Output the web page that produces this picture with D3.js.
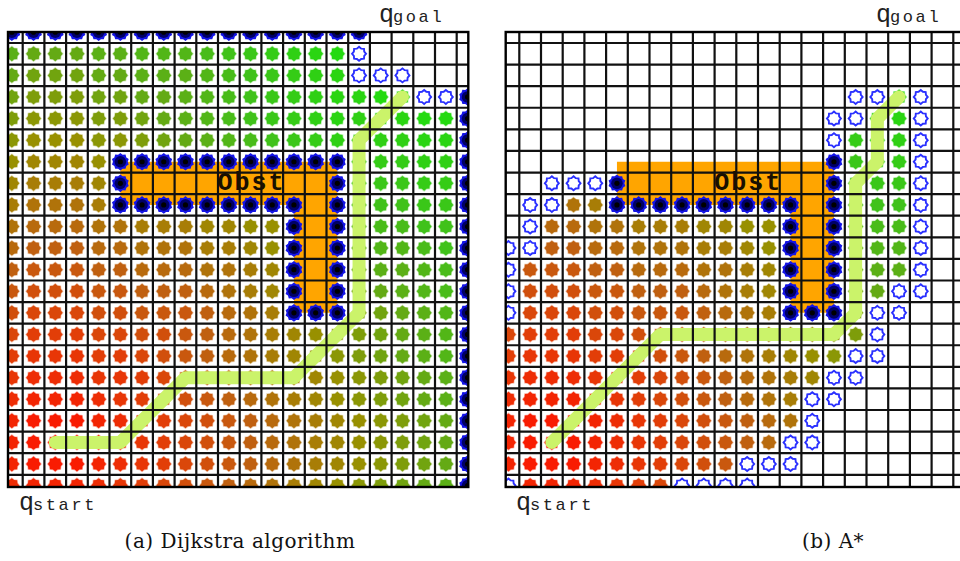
<!DOCTYPE html>
<html>
<head>
<meta charset="utf-8">
<script src="https://cdn.jsdelivr.net/npm/d3@7"></script>
<style>
  body { margin: 0; background: #fff; }
  svg { display: block; }
</style>
</head>
<body>
<svg width="960" height="561"></svg>
<script>
// cost-to-come of every cell (row 0 .. 21, col 0 .. 20), "-" = no value
var costRows = [
  "- - - - - - - - - - - - - - - - - - - - -",
  "19 18 18 18 19 19 20 20 20 21 22 23 24 25 26 27 - - - - -",
  "18 17 17 17 18 18 19 19 19 20 21 22 23 24 25 26 - - - - -",
  "17 16 16 16 17 17 18 18 19 20 21 22 23 24 25 26 26 27 27 - -",
  "16 15 15 15 16 16 17 18 19 20 21 22 23 24 25 26 25 26 26 27 27",
  "15 14 14 14 15 15 16 17 18 19 20 21 22 23 24 25 24 25 25 26 26",
  "14 13 13 13 14 - - - - - - - - - - - 23 24 24 25 25",
  "13 12 12 12 13 - - - - - - - - - - - 22 23 23 24 24",
  "12 11 11 11 12 - - - - - - - - - - - 21 22 22 23 23",
  "11 10 10 10 11 11 12 12 12 13 13 14 14 - - - 20 21 21 22 22",
  "10 9 9 9 10 10 11 11 11 12 12 13 14 - - - 19 20 20 21 22",
  "9 8 8 8 9 9 10 10 10 11 11 12 13 - - - 18 19 19 20 21",
  "8 7 7 7 8 8 9 9 9 10 11 12 13 - - - 17 18 19 20 21",
  "7 6 6 6 7 7 8 8 8 9 10 11 12 - - - 16 17 18 19 20",
  "6 5 5 5 6 6 7 7 8 9 10 11 12 13 14 15 16 17 18 19 20",
  "5 4 4 4 5 5 6 7 8 9 10 11 12 13 14 15 16 17 18 19 20",
  "4 3 3 3 4 4 5 6 7 8 9 10 11 12 13 14 15 16 17 18 19",
  "3 2 2 2 3 4 5 6 7 8 9 10 11 12 13 14 15 16 17 18 19",
  "2 1 1 1 2 3 4 5 6 7 8 9 10 11 12 13 14 15 16 17 18",
  "2 1 0 1 2 3 4 5 6 7 8 9 10 11 12 13 14 15 16 17 18",
  "2 1 1 1 2 3 4 5 6 7 8 9 10 11 12 13 14 15 16 17 18",
  "3 2 2 2 3 4 5 6 7 8 9 10 11 12 13 14 15 16 17 18 19"
];

// cell states: F = closed, O = open, B = obstacle met, - = obstacle, . = untouched
var dijkstraRows = [
  "BBBBBBBBBBBBBBBBB.....",
  "FFFFFFFFFFFFFFFFO.....",
  "FFFFFFFFFFFFFFFFOOO...",
  "FFFFFFFFFFFFFFFFFFFOOB",
  "FFFFFFFFFFFFFFFFFFFFFB",
  "FFFFFFFFFFFFFFFFFFFFFB",
  "FFFFFBBBBBBBBBBBFFFFFB",
  "FFFFFB---------BFFFFFB",
  "FFFFFBBBBBBBBB-BFFFFFB",
  "FFFFFFFFFFFFFB-BFFFFFB",
  "FFFFFFFFFFFFFB-BFFFFFB",
  "FFFFFFFFFFFFFB-BFFFFFB",
  "FFFFFFFFFFFFFB-BFFFFFB",
  "FFFFFFFFFFFFFBBBFFFFFB",
  "FFFFFFFFFFFFFFFFFFFFFB",
  "FFFFFFFFFFFFFFFFFFFFFB",
  "FFFFFFFFFFFFFFFFFFFFFB",
  "FFFFFFFFFFFFFFFFFFFFFB",
  "FFFFFFFFFFFFFFFFFFFFFB",
  "FFFFFFFFFFFFFFFFFFFFFB",
  "FFFFFFFFFFFFFFFFFFFFFB",
  "FFFFFFFFFFFFFFFFFFFFFB"
];

var astarRows = [
  "......................",
  "......................",
  "......................",
  "................OOFO..",
  "...............OOFFO..",
  "...............OFFFO..",
  "...............BFFFO..",
  "..OOOB.........BFFFO..",
  ".OOFFBBBBBBBBB.BFFFO..",
  ".OFFFFFFFFFFFB.BFFFO..",
  "OOFFFFFFFFFFFB.BFFFO..",
  "OFFFFFFFFFFFFB.BFFFO..",
  "OFFFFFFFFFFFFB.BFFOO..",
  "OFFFFFFFFFFFFBBBFOO...",
  "FFFFFFFFFFFFFFFFFO....",
  "FFFFFFFFFFFFFFFFOO....",
  "FFFFFFFFFFFFFFFOO.....",
  "FFFFFFFFFFFFFFOO......",
  "FFFFFFFFFFFFFFO.......",
  "FFFFFFFFFFFFFOO.......",
  "FFFFFFFFFFFOOO........",
  "OFFFFFFFOOOO.........."
];

// paths and obstacle outline in cell (col, row) units
var dijkstraPath = [[2, 19], [5, 19], [8, 16], [13, 16], [16, 13], [16, 5], [18, 3]];
var astarPath = [[2, 19], [7, 14], [15, 14], [16, 13], [16, 7], [17, 6], [17, 4], [18, 3]];
var obstacle = [[5, 6], [15, 6], [15, 13], [13, 13], [13, 8], [5, 8]];
var captions = ["(a) Dijkstra algorithm", "(b) A*"];

var costs = costRows.map(function (row) {
  return row.split(" ").map(function (v) { return v === "-" ? null : +v; });
});

var cw = 21.7, ch = 21.59, n = 22;
var svg = d3.select("svg");

var color = d3.scaleLinear()
  .domain([0, 5, 9, 14, 18, 22, 27])
  .range(["#ff1400", "#e23e08", "#c06010", "#989000", "#64aa14", "#40c21a", "#24da10"])
  .clamp(true);

function star(points, rOut, rIn) {
  var pts = d3.range(points * 2).map(function (i) {
    return [i * Math.PI / points, i % 2 ? rIn : rOut];
  });
  return d3.lineRadial().curve(d3.curveLinearClosed)(pts);
}
var fillStar = star(8, 7.4, 6.0);
var openStar = star(8, 7.0, 5.6);
var blueStar = star(10, 8.8, 7.4);

var panels = [
  { rows: dijkstraRows, path: dijkstraPath, x0: 1.0, clip: [8, 32, 468.3, 487],
    goal: [379, 22], start: [19, 510], caption: [240, 548] },
  { rows: astarRows, path: astarPath, x0: 497.6, clip: [505.7, 32, 966, 487],
    goal: [876, 22], start: [516, 510], caption: [833, 548] }
];

panels.forEach(function (p, i) {
  var x = d3.scaleLinear().domain([0, n]).range([p.x0, p.x0 + n * cw]);
  var y = d3.scaleLinear().domain([0, n]).range([21.4, 21.4 + n * ch]);
  var cx = function (c) { return x(c + 0.5); };
  var cy = function (r) { return y(r + 0.5); };

  svg.append("clipPath").attr("id", "clip" + i)
    .append("rect")
    .attr("x", p.clip[0]).attr("y", p.clip[1])
    .attr("width", p.clip[2] - p.clip[0]).attr("height", p.clip[3] - p.clip[1]);

  var g = svg.append("g").attr("clip-path", "url(#clip" + i + ")");

  // obstacle
  g.append("path")
    .attr("d", d3.line().x(function (d) { return cx(d[0]); }).y(function (d) { return cy(d[1]); })(obstacle) + "Z")
    .attr("fill", "#ffa500");

  var cells = [];
  p.rows.forEach(function (row, r) {
    row.split("").forEach(function (s, c) {
      if (s === "F" || s === "O" || s === "B") cells.push({ s: s, c: c, r: r, v: costs[r][c] });
    });
  });

  var mark = g.selectAll("g.cell").data(cells).enter().append("g")
    .attr("class", "cell")
    .attr("transform", function (d) { return "translate(" + cx(d.c) + "," + cy(d.r) + ")"; });

  mark.filter(function (d) { return d.s === "F"; })
    .append("path").attr("d", fillStar)
    .attr("fill", function (d) { return color(d.v); })
    .attr("stroke", function (d) { return color(d.v); })
    .attr("stroke-opacity", 0.35).attr("stroke-width", 1.4);

  mark.filter(function (d) { return d.s === "O"; })
    .append("path").attr("d", openStar)
    .attr("fill", "#fff").attr("stroke", "#2a30ff").attr("stroke-width", 1.9);

  var blue = mark.filter(function (d) { return d.s === "B"; });
  blue.append("path").attr("d", blueStar).attr("fill", "#1414e6");
  blue.append("circle").attr("r", 5.8).attr("fill", "#000066");
  blue.append("circle").attr("r", 2.6).attr("fill", "#000");

  // planned path
  g.append("path")
    .attr("d", d3.line().x(function (d) { return cx(d[0]); }).y(function (d) { return cy(d[1]); })(p.path))
    .attr("fill", "none")
    .attr("stroke", "#cbf36a")
    .attr("stroke-width", 13)
    .attr("stroke-linejoin", "round")
    .attr("stroke-linecap", "round");

  // grid
  g.selectAll("line.v").data(d3.range(n + 1)).enter().append("line")
    .attr("x1", function (k) { return x(k); }).attr("x2", function (k) { return x(k); })
    .attr("y1", p.clip[1]).attr("y2", p.clip[3])
    .attr("stroke", "#111").attr("stroke-width", 2.2);
  g.selectAll("line.h").data(d3.range(n + 1)).enter().append("line")
    .attr("y1", function (k) { return y(k); }).attr("y2", function (k) { return y(k); })
    .attr("x1", p.clip[0]).attr("x2", p.clip[2])
    .attr("stroke", "#111").attr("stroke-width", 2.2);

  g.append("text")
    .attr("x", cx(11) + 1).attr("y", cy(7) + 7)
    .attr("text-anchor", "middle")
    .attr("font-family", "Liberation Mono, monospace")
    .attr("font-weight", "bold")
    .attr("font-size", 25)
    .attr("letter-spacing", 2)
    .attr("fill", "#1a1000")
    .text("Obst");

  svg.append("rect")
    .attr("x", p.clip[0]).attr("y", p.clip[1])
    .attr("width", p.clip[2] - p.clip[0]).attr("height", p.clip[3] - p.clip[1])
    .attr("fill", "none").attr("stroke", "#000").attr("stroke-width", 2.4);

  // q_goal / q_start labels
  [[p.goal, "goal"], [p.start, "start"]].forEach(function (l) {
    var t = svg.append("text")
      .attr("x", l[0][0]).attr("y", l[0][1])
      .attr("font-family", "Liberation Mono, monospace")
      .attr("fill", "#222");
    t.append("tspan").attr("font-size", 25).text("q");
    t.append("tspan").attr("font-size", 17).attr("letter-spacing", 2.6).attr("dx", -1).text(l[1]);
  });

  svg.append("text")
    .attr("x", p.caption[0]).attr("y", p.caption[1])
    .attr("text-anchor", "middle")
    .attr("font-family", "DejaVu Serif, serif")
    .attr("font-size", 20)
    .attr("letter-spacing", 0.5)
    .attr("fill", "#111")
    .text(captions[i]);
});
</script>
</body>
</html>
